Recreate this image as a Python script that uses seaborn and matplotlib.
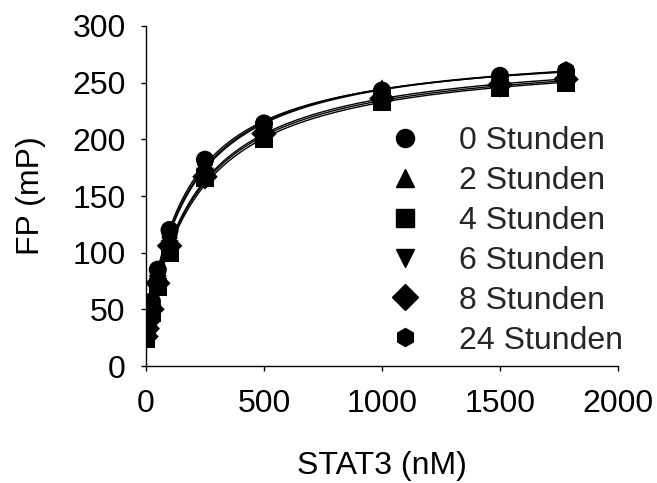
import numpy as np
import pandas as pd
import matplotlib
matplotlib.use("Agg")
import matplotlib.pyplot as plt
import seaborn as sns
from matplotlib.lines import Line2D

# ---- data ----
stat3_nM = [0, 5, 10, 25, 50, 100, 250, 500, 1000, 1500, 1780]
series_labels = ["0 Stunden", "2 Stunden", "4 Stunden", "6 Stunden", "8 Stunden", "24 Stunden"]
fp_0h = [30, 38, 45, 57, 85, 120, 182, 214, 243, 256, 260]
fp_2h = [28, 36, 43, 55, 80, 113, 180, 212, 245, 255, 259]
fp_4h = [24, 31, 38, 47, 70, 100, 166, 200, 233, 245, 250]
fp_6h = [25, 32, 39, 48, 72, 103, 167, 203, 234, 247, 251]
fp_8h = [26, 33, 40, 50, 73, 106, 167, 205, 236, 248, 253]
fp_24h = [29, 37, 44, 56, 82, 116, 181, 213, 243, 256, 261]
x_ticks = [0, 500, 1000, 1500, 2000]
y_ticks = [0, 50, 100, 150, 200, 250, 300]

series_values = [fp_0h, fp_2h, fp_4h, fp_6h, fp_8h, fp_24h]
marker_map = {"0 Stunden": "o", "2 Stunden": "^", "4 Stunden": "s",
              "6 Stunden": "v", "8 Stunden": "D", "24 Stunden": "h"}

df = pd.concat([pd.DataFrame({"x": stat3_nM, "y": v, "series": lab})
                for lab, v in zip(series_labels, series_values)], ignore_index=True)

# hyperbolic binding fit of each series (least squares on the read data)
def fit_curve(x, y):
    x = np.asarray(x, float); y = np.asarray(y, float)
    best = None
    for kd in np.linspace(20, 800, 781):
        A = np.column_stack([np.ones_like(x), x / (kd + x)])
        coef, *_ = np.linalg.lstsq(A, y, rcond=None)
        err = np.sum((A @ coef - y) ** 2)
        if best is None or err < best[0]:
            best = (err, kd, coef)
    _, kd, (y0, bmax) = best
    xs = np.linspace(0, max(x), 300)
    return xs, y0 + bmax * xs / (kd + xs)

fits = []
for lab, v in zip(series_labels, series_values):
    xs, ys = fit_curve(stat3_nM, v)
    fits.append(pd.DataFrame({"x": xs, "y": ys, "series": lab}))
fit_df = pd.concat(fits, ignore_index=True)

sns.set_style("white")
plt.rcParams["font.family"] = ["Liberation Sans", "DejaVu Sans"]
FS = 23

fig = plt.figure(figsize=(6.57, 4.83), dpi=100)
ax = fig.add_axes([0.2222, 0.2422, 0.7184, 0.7040])

sns.lineplot(data=fit_df, x="x", y="y", units="series", estimator=None,
             color="black", linewidth=1.0, ax=ax, legend=False)
sns.scatterplot(data=df, x="x", y="y", style="series", markers=marker_map,
                style_order=series_labels, color="black", s=170,
                edgecolor="black", linewidth=0, ax=ax, legend=False, zorder=3)

ax.set_xlim(0, 2000)
ax.set_ylim(0, 300)
ax.set_xticks(x_ticks)
ax.set_yticks(y_ticks)
ax.tick_params(axis="both", labelsize=FS, direction="out", length=3.6, width=1,
               colors="black", left=True, bottom=True)
ax.tick_params(axis="y", pad=11)
ax.tick_params(axis="x", pad=13)
for side in ["top", "right"]:
    ax.spines[side].set_visible(False)
for side in ["left", "bottom"]:
    ax.spines[side].set_color("black")
    ax.spines[side].set_linewidth(1)
ax.set_xlabel("STAT3 (nM)", fontsize=FS, labelpad=23, color="black")
ax.set_ylabel("FP (mP)", fontsize=FS, labelpad=19, color="black")

handles = [Line2D([], [], linestyle="none", marker=marker_map[l], color="black",
                  markersize=13) for l in series_labels]
ax.legend(handles, series_labels, loc="upper left", bbox_to_anchor=(389 / 657, 1 - 126 / 483),
          bbox_transform=fig.transFigure, frameon=False, fontsize=FS,
          handlelength=1.0, handletextpad=1.19, labelspacing=0.31,
          borderpad=0, borderaxespad=0)

fig.savefig("out.png", dpi=100)
